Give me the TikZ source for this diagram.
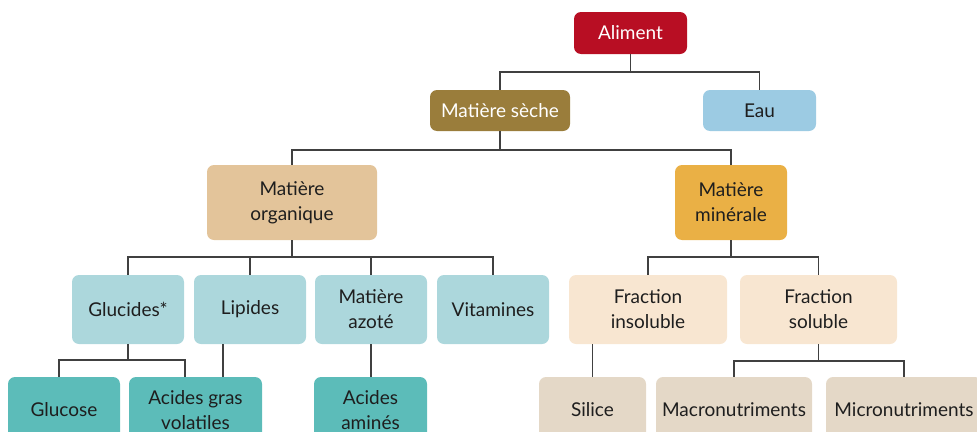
\documentclass[tikz,border=0pt]{standalone}
\usepackage{fontspec}
\setmainfont{Lato}
\definecolor{cRed}{HTML}{B80E23}
\definecolor{cBrown}{HTML}{9A7D3B}
\definecolor{cEau}{HTML}{9CCBE3}
\definecolor{cOrga}{HTML}{E3C49A}
\definecolor{cMine}{HTML}{EAB045}
\definecolor{cL3a}{HTML}{ACD7DC}
\definecolor{cL3b}{HTML}{F8E6D1}
\definecolor{cL4a}{HTML}{5CBCB9}
\definecolor{cL4b}{HTML}{E4D8C7}
\definecolor{cLine}{HTML}{404040}
\definecolor{cText}{HTML}{1E1E1E}
\tikzset{
  box/.style={rounded corners=7pt, inner sep=0pt, align=center, text=cText,
    font=\fontsize{19}{25}\selectfont},
  conn/.style={draw=cLine, line width=1.6pt}
}
\begin{document}
\begin{tikzpicture}[x=1pt,y=-1pt]
\useasboundingbox (0,0) rectangle (977,431);
\clip (0,0) rectangle (977,431);
% level 1
\node[box, fill=cRed, text=white, minimum width=113pt, minimum height=42pt] (aliment) at (630.5,33) {Aliment};
% level 2
\node[box, fill=cBrown, text=white, minimum width=140pt, minimum height=41pt] (seche) at (500,110.5) {Matière sèche};
\node[box, fill=cEau, minimum width=113pt, minimum height=41pt] (eau) at (759.5,110.5) {Eau};
% level 3
\node[box, fill=cOrga, minimum width=170pt, minimum height=75pt] (orga) at (292,202.5) {Matière\\organique};
\node[box, fill=cMine, minimum width=112pt, minimum height=75pt] (mine) at (731,202.5) {Matière\\minérale};
% level 4
\node[box, fill=cL3a, minimum width=112pt, minimum height=69pt] (gluc) at (128,309.5) {Glucides*};
\node[box, fill=cL3a, minimum width=112pt, minimum height=69pt] (lip) at (250,309.5) {Lipides};
\node[box, fill=cL3a, minimum width=112pt, minimum height=69pt] (azote) at (371,309.5) {Matière\\azoté};
\node[box, fill=cL3a, minimum width=112pt, minimum height=69pt] (vit) at (493,309.5) {Vitamines};
\node[box, fill=cL3b, minimum width=158pt, minimum height=69pt] (fins) at (648,309.5) {Fraction\\insoluble};
\node[box, fill=cL3b, minimum width=157pt, minimum height=69pt] (fsol) at (818.5,309.5) {Fraction\\soluble};
% level 5
\node[box, fill=cL4a, minimum width=112pt, minimum height=66pt] (glucose) at (64,410) {Glucose};
\node[box, fill=cL4a, minimum width=133pt, minimum height=66pt] (agv) at (195.5,410) {Acides gras\\volatiles};
\node[box, fill=cL4a, minimum width=113pt, minimum height=66pt] (aa) at (370.5,410) {Acides\\aminés};
\node[box, fill=cL4b, minimum width=107pt, minimum height=66pt] (silice) at (592.5,410) {Silice};
\node[box, fill=cL4b, minimum width=156pt, minimum height=66pt] (macro) at (734,410) {Macronutriments};
\node[box, fill=cL4b, minimum width=156pt, minimum height=66pt] (micro) at (904,410) {Micronutriments};
% connectors
\draw[conn] (aliment.south) -- ++(0,18);
\draw[conn] (seche.north) -- ++(0,-18) -| (eau.north);
\draw[conn] (seche.south) -- ++(0,19);
\draw[conn] (orga.north) -- ++(0,-15) -| (mine.north);
\draw[conn] (orga.south) -- ++(0,17);
\draw[conn] (gluc.north) -- ++(0,-18) -| (vit.north);
\draw[conn] (lip.north) -- ++(0,-18);
\draw[conn] (azote.north) -- ++(0,-18);
\draw[conn] (mine.south) -- ++(0,17);
\draw[conn] (fins.north) -- ++(0,-18) -| (fsol.north);
\draw[conn] (gluc.south) -- ++(0,16);
\draw[conn] ([xshift=-5pt]glucose.north) -- ++(0,-17) -| ([xshift=-10.5pt]agv.north);
\draw[conn] ([xshift=-27pt]lip.south) -- ([xshift=-27pt]lip.south |- agv.north);
\draw[conn] (azote.south) -- (azote.south |- aa.north);
\draw[conn] (silice.north) -- (silice.north |- fins.south);
\draw[conn] (fsol.south) -- ++(0,17);
\draw[conn] (macro.north) -- ++(0,-16) -| (micro.north);
\end{tikzpicture}
\end{document}
